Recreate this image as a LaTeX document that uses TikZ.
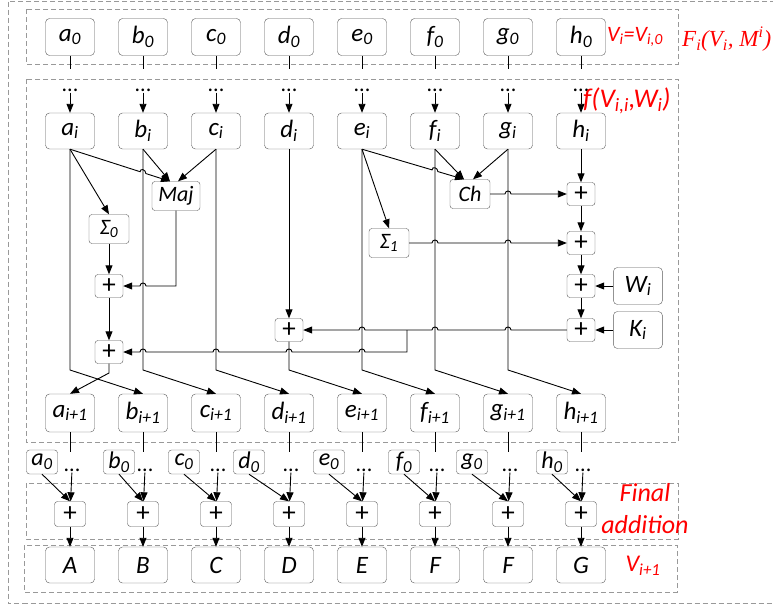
\documentclass[tikz,border=0pt]{standalone}
\usepackage{fontspec}
\setmainfont{Carlito}
\newfontfamily\serifit{Liberation Serif}
\usepackage{tikz}
\usetikzlibrary{arrows.meta,positioning,calc}
\tikzset{
  box/.style={draw=black!65, rounded corners=4pt, align=center, inner sep=1pt, minimum width=49pt, minimum height=37pt, font=\fontsize{25}{28}\selectfont\itshape},
  opbox/.style={draw=black!65, rounded corners=3pt, align=center, inner sep=1pt, minimum width=40pt, minimum height=29pt, font=\fontsize{22}{24}\selectfont\itshape},
  plusbox/.style={draw=black!65, rounded corners=3pt, inner sep=0pt, minimum width=28pt, minimum height=23pt, font=\fontsize{27}{28}\selectfont},
  initbox/.style={draw=black!65, rounded corners=3pt, inner sep=0pt, minimum width=31pt, minimum height=24pt, font=\fontsize{24}{26}\selectfont\itshape},
  ellip/.style={inner sep=1pt, font=\fontsize{22}{24}\selectfont},
  region/.style={draw=black!40, dash pattern=on 5pt off 3pt, line width=0.9pt},
  wire/.style={line width=0.9pt},
  arrow/.style={-{Triangle[length=9pt,width=7pt]}, line width=0.9pt},
  redlbl/.style={text=red, inner sep=0pt, font=\fontsize{22}{24}\selectfont\itshape}
}
\newcommand{\hop}[3]{-- ($(#1)!3pt!(#2)$) .. controls +(0,4pt) and +(0,4pt) .. ($(#1)!3pt!(#3)$)}

\begin{document}
\begin{tikzpicture}[x=1pt,y=1pt]
\path[use as bounding box, clip] (0,0) rectangle (773,-608);

\draw[region] (8,-1.5) rectangle (790,-603);
\draw[region] (26,-9) rectangle (678,-64);
\draw[region] (26,-79) rectangle (678,-442);
\draw[region] (26,-483) rectangle (678,-539);
\draw[region] (24,-545) rectangle (677,-592);

\foreach \n/\o/\f [count=\k from 0] in {a/-28/A, b/-24/B, c/-32/C, d/-40/D, e/-33/E, f/-31/F, g/-36/F, h/-29/G}{
  \pgfmathsetmacro{\cx}{70+73*\k}
  \node[box] (top\n) at (\cx,-37) {\n\textsubscript{0}};
  \coordinate (tt\n) at (\cx,-69);
  \node[ellip] (dt\n) at (\cx,-90) {...};
  \node[box, minimum height=36pt] (cur\n) at (\cx,-131) {\n\textsubscript{i}};
  \coordinate (bend\n) at (\cx,-370);
  \node[box, minimum height=38pt] (nxt\n) at (\cx,-413) {\n\textsubscript{i+1}};
  \coordinate (bt\n) at (\cx,-452);
  \node[initbox] (init\n) at (\cx+\o,-462) {\n\textsubscript{0}};
  \node[ellip] (db\n) at (\cx+2,-470) {...};
  \node[plusbox, minimum width=31pt, minimum height=25pt] (fin\n) at (\cx,-514) {+};
  \node[box, minimum height=36pt] (out\n) at (\cx,-565) {\f};
  \draw[wire] (top\n) -- (tt\n);
  \draw[arrow] (dt\n) -- (cur\n);
  \draw[wire] (nxt\n) -- (bt\n);
  \draw[arrow] (db\n) -- (fin\n);
  \draw[arrow] (init\n.south) -- (fin\n.north);
  \draw[arrow] (fin\n) -- (out\n);
}

\node[opbox, minimum width=48pt] (maj) at (176,-196) {Maj};
\node[opbox] (sig0) at (109,-229) {Σ\textsubscript{0}};
\node[opbox] (sig1) at (389,-243) {Σ\textsubscript{1}};
\node[opbox] (ch) at (470,-194) {Ch};
\node[plusbox] (pa1) at (109,-286) {+};
\node[plusbox] (pa2) at (109,-352) {+};
\node[plusbox] (ph1) at (581,-194) {+};
\node[plusbox] (ph2) at (581,-243) {+};
\node[plusbox] (ph3) at (581,-286) {+};
\node[plusbox] (ph4) at (581,-330) {+};
\node[plusbox] (pd) at (curd |- ph4) {+};
\node[box, right=18pt of ph3] (w) {W\textsubscript{i}};
\node[box, right=18pt of ph4] (k) {K\textsubscript{i}};

\coordinate (majL) at ([xshift=-6pt]maj.north);
\coordinate (majR) at ([xshift=2pt]maj.north);
\coordinate (chL) at ([xshift=-6pt]ch.north);
\coordinate (chR) at ([xshift=3pt]ch.north);
\coordinate (majc) at (maj.south |- pa1.east);
\coordinate (brk) at (407,-330);
\coordinate (brkl) at (brk |- pa2.east);
\coordinate (bendp) at (109,-373);
\coordinate (xab) at (intersection of cura.south--majL and curb.south--bendb);
\coordinate (xef) at (intersection of cure.south--chL and curf.south--bendf);

\draw[arrow] (cura.south) -- (sig0.north);
\draw[arrow] (cura.south) \hop{xab}{cura.south}{majL} -- (majL);
\draw[arrow] (curb.south) -- (majL);
\draw[arrow] (curc.south) -- (majR);
\draw[arrow] (sig0) -- (pa1);
\draw[arrow] (pa1) -- (pa2);
\draw[arrow] (maj.south) -- (majc) \hop{curb |- pa1.east}{majc}{pa1.east} -- (pa1.east);
\draw[arrow] (curd.south) -- (pd.north);
\draw[arrow] (cure.south) -- (sig1.north);
\draw[arrow] (cure.south) \hop{xef}{cure.south}{chL} -- (chL);
\draw[arrow] (curf.south) -- (chL);
\draw[arrow] (curg.south) -- (chR);
\draw[arrow] (curh) -- (ph1);
\draw[arrow] (ph1) -- (ph2);
\draw[arrow] (ph2) -- (ph3);
\draw[arrow] (ph3) -- (ph4);
\draw[arrow] (w) -- (ph3);
\draw[arrow] (k) -- (ph4);
\draw[arrow] (ch.east) \hop{curg |- ch.east}{ch.east}{ph1.west} -- (ph1.west);
\draw[arrow] (sig1.east) \hop{curf |- sig1.east}{sig1.east}{ph2.west} \hop{curg |- sig1.east}{sig1.east}{ph2.west} -- (ph2.west);
\draw[arrow] (ph4.west) \hop{curg |- ph4.west}{ph4.west}{pd.east} \hop{curf |- ph4.west}{ph4.west}{pd.east} \hop{cure |- ph4.west}{ph4.west}{pd.east} -- (pd.east);
\draw[arrow] (brk) -- (brkl) \hop{cure |- brkl}{brkl}{pa2.east} \hop{curd |- brkl}{brkl}{pa2.east} \hop{curc |- brkl}{brkl}{pa2.east} \hop{curb |- brkl}{brkl}{pa2.east} -- (pa2.east);

\draw[arrow] (pa2.south) -- (bendp) -- (nxta.north);
\draw[arrow] (pd.south) -- (bendd) -- (nxte.north);
\foreach \s/\t in {a/b, b/c, c/d, e/f, f/g, g/h}
  \draw[arrow] (cur\s.south) -- (bend\s) -- (nxt\t.north);

\node[redlbl, anchor=west] (vi) at (607,-37) {V\textsubscript{i}=V\textsubscript{i,0}};
\node[redlbl, anchor=west, font=\fontsize{23}{25}\selectfont\serifit\itshape] (fi) at (682,-39) {F\textsubscript{i}(V\textsubscript{i}, M\textsuperscript{i})};
\node[redlbl, anchor=west, font=\fontsize{27}{29}\selectfont\itshape] (fv) at (583,-101) {f(V\textsubscript{i,i},W\textsubscript{i})};
\node[redlbl, align=center, font=\fontsize{26}{32}\selectfont\itshape] (fa) at (645,-509) {Final\\addition};
\node[redlbl, font=\fontsize{24}{26}\selectfont\itshape] (vn) at (643,-566) {V\textsubscript{i+1}};
\end{tikzpicture}
\end{document}
